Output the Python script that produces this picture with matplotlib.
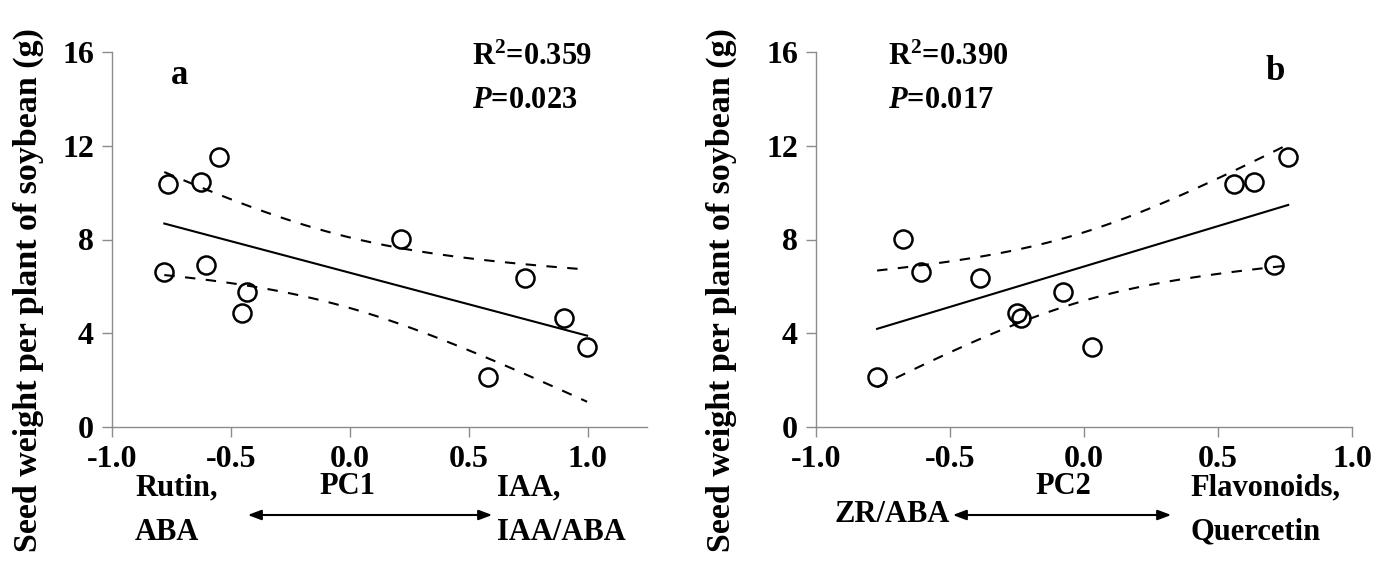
import numpy as np
import matplotlib
matplotlib.use("Agg")
import matplotlib.pyplot as plt

plt.rcParams['font.family'] = ['Liberation Serif', 'DejaVu Serif']
plt.rcParams['font.weight'] = 'bold'
plt.rcParams['mathtext.fontset'] = 'custom'
plt.rcParams['mathtext.rm'] = 'Liberation Serif:bold'
plt.rcParams['mathtext.it'] = 'Liberation Serif:italic:bold'
plt.rcParams['mathtext.bf'] = 'Liberation Serif:bold'

# seed weight per plant (g), one value per plant
seed_weight = np.array([10.36, 10.45, 11.53, 6.60, 6.93, 5.78,
                        4.85, 8.03, 6.34, 4.67, 3.40, 2.14])
# principal component scores for the same plants
pc1 = np.array([-0.764, -0.625, -0.550, -0.780, -0.604, -0.432,
                -0.454, 0.216, 0.737, 0.899, 0.998, 0.582])
pc2 = np.array([0.558, 0.633, 0.762, -0.608, 0.708, -0.080,
                -0.250, -0.677, -0.388, -0.235, 0.030, -0.772])

panel_labels = ['a', 'b']
r2_text = ['0.359', '0.390']
p_text = ['0.023', '0.017']
x_ticks = [-1.0, -0.5, 0.0, 0.5, 1.0]
y_ticks = [0, 4, 8, 12, 16]

W, H = 1390, 573
fig = plt.figure(figsize=(W / 100, H / 100), dpi=100)


def px(x, y):
    return x / W, 1 - y / H


def fit_band(x, y):
    slope, intercept = np.polyfit(x, y, 1)
    xs = np.linspace(x.min(), x.max(), 100)
    yhat = intercept + slope * xs
    resid = y - (intercept + slope * x)
    n = len(x)
    s = np.sqrt(np.sum(resid ** 2) / (n - 2))
    t = 2.228  # t(0.975, df=10)
    half = t * s * np.sqrt(1 / n + (xs - x.mean()) ** 2 / np.sum((x - x.mean()) ** 2))
    return xs, yhat, yhat - half, yhat + half


def panel(rect, x, xmax):
    ax = fig.add_axes(rect)
    xs, yhat, lo, hi = fit_band(x, seed_weight)
    ax.plot(xs, yhat, color='black', lw=1.5)
    ax.plot(xs, lo, color='black', lw=1.5, ls=(0, (5, 5)))
    ax.plot(xs, hi, color='black', lw=1.5, ls=(0, (5, 5)))
    ax.plot(x, seed_weight, 'o', mfc='none', mec='black', ms=13, mew=1.8)
    ax.set_xlim(-1.0, xmax)
    ax.set_ylim(0, 16)
    ax.set_xticks(x_ticks)
    ax.set_xticklabels(['%.1f' % v for v in x_ticks])
    ax.set_yticks(y_ticks)
    for s in ['top', 'right']:
        ax.spines[s].set_visible(False)
    for s in ['left', 'bottom']:
        ax.spines[s].set_color('#8c8c8c')
        ax.spines[s].set_linewidth(1.0)
    ax.tick_params(direction='out', length=7, width=1.0, color='#8c8c8c',
                   labelsize=23, pad=6)
    ax.tick_params(axis='x', pad=6)
    for lab in ax.get_xticklabels() + ax.get_yticklabels():
        lab.set_fontweight('bold')
    return ax


ax1 = panel([112 / W, 1 - 427 / H, 535 / W, 375 / H], pc1, 1.25)
ax2 = panel([816 / W, 1 - 427 / H, 536 / W, 375 / H], pc2, 1.0)

ylab = 'Seed weight per plant of soybean (g)'
fig.text(*px(28, 290), ylab, rotation=90, ha='center', va='center',
         fontsize=24.5, fontweight='bold')
fig.text(*px(721, 290), ylab, rotation=90, ha='center', va='center',
         fontsize=24.5, fontweight='bold')

# panel letters and stats
fig.text(*px(180, 75), panel_labels[0], ha='center', va='center', fontsize=25, fontweight='bold')
fig.text(*px(1275, 72), panel_labels[1], ha='center', va='center', fontsize=25, fontweight='bold')
fig.text(*px(472, 57), 'R$^{2}$=' + r2_text[0], ha='left', va='center', fontsize=22, fontweight='bold')
fig.text(*px(472, 101), '$\\mathit{P}$=' + p_text[0], ha='left', va='center', fontsize=22, fontweight='bold')
fig.text(*px(888, 57), 'R$^{2}$=' + r2_text[1], ha='left', va='center', fontsize=22, fontweight='bold')
fig.text(*px(888, 101), '$\\mathit{P}$=' + p_text[1], ha='left', va='center', fontsize=22, fontweight='bold')

# bottom annotations panel a
fig.text(*px(135, 488), 'Rutin,', ha='left', va='center', fontsize=22, fontweight='bold')
fig.text(*px(135, 532), 'ABA', ha='left', va='center', fontsize=22, fontweight='bold')
fig.text(*px(347, 487), 'PC1', ha='center', va='center', fontsize=22, fontweight='bold')
fig.text(*px(497, 488), 'IAA,', ha='left', va='center', fontsize=22, fontweight='bold')
fig.text(*px(497, 532), 'IAA/ABA', ha='left', va='center', fontsize=22, fontweight='bold')
fig.add_artist(matplotlib.patches.FancyArrowPatch(
    px(245, 515), px(495, 515), transform=fig.transFigure,
    arrowstyle='<|-|>,head_length=8,head_width=3', color='black', lw=1.5))

# bottom annotations panel b
fig.text(*px(1063, 487), 'PC2', ha='center', va='center', fontsize=22, fontweight='bold')
fig.text(*px(950, 515), 'ZR/ABA', ha='right', va='center', fontsize=22, fontweight='bold')
fig.text(*px(1190, 488), 'Flavonoids,', ha='left', va='center', fontsize=22, fontweight='bold')
fig.text(*px(1190, 532), 'Quercetin', ha='left', va='center', fontsize=22, fontweight='bold')
fig.add_artist(matplotlib.patches.FancyArrowPatch(
    px(950, 515), px(1174, 515), transform=fig.transFigure,
    arrowstyle='<|-|>,head_length=8,head_width=3', color='black', lw=1.5))

fig.savefig('out.png', dpi=100)
